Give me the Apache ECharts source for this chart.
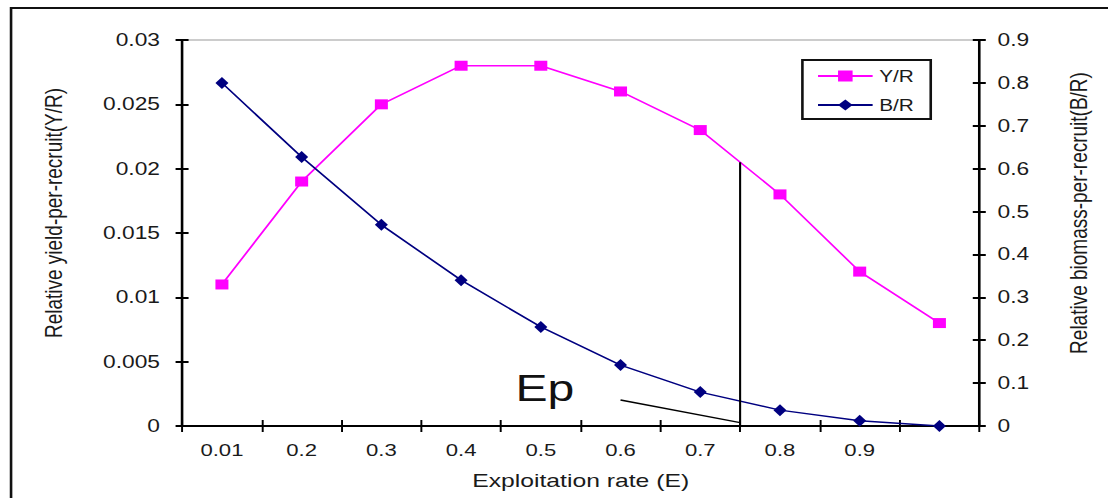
<!DOCTYPE html>
<html>
<head>
<meta charset="utf-8">
<script src="https://cdn.jsdelivr.net/npm/echarts@6/dist/echarts.min.js"></script>
<style>
html,body{margin:0;padding:0;overflow:hidden;background:#fff;width:1108px;height:498px;}
#main{width:852px;height:498px;transform:scaleX(1.3005);transform-origin:0 0;}
</style>
</head>
<body>
<div id="main"></div>
<script>
// ---- data ----
const categories = ['0.01', '0.2', '0.3', '0.4', '0.5', '0.6', '0.7', '0.8', '0.9', ''];
const yieldPerRecruit = [0.011, 0.019, 0.025, 0.028, 0.028, 0.026, 0.023, 0.018, 0.012, 0.008];
const biomassPerRecruit = [0.80, 0.627, 0.469, 0.34, 0.231, 0.142, 0.079, 0.037, 0.012, 0.0];
const leftScale = { min: 0, max: 0.03, interval: 0.005 };
const rightScale = { min: 0, max: 0.9, interval: 0.1 };
const seriesNames = ['Y/R', 'B/R'];
const xName = 'Exploitation rate (E)';
const leftName = 'Relative yield-per-recruit(Y/R)';
const rightName = 'Relative biomass-per-recruit(B/R)';
// Ep annotation anchors (category index, value)
const epLabelText = 'Ep';
const epIndex = 6.5;
const epLabelAt = [4.05, 0.089];          // right-axis value
const epPointerFrom = [5.0, 0.0606];      // right-axis value
const epPointerTo = [6.5, 0.008];         // right-axis value

const FONT = '"Liberation Sans", Arial, sans-serif';
const TXT = '#1a1a1a';

const chart = echarts.init(document.getElementById('main'), null, { renderer: 'svg' });

function yMain(scale, pos, name, gap, dp, margin) {
  return {
    type: 'value', position: pos, min: scale.min, max: scale.max, interval: scale.interval,
    name: name, nameLocation: 'middle', nameGap: gap, nameRotate: 90,
    nameTextStyle: { fontFamily: FONT, fontSize: 19, color: TXT, padding: [0, 0, 0, 40] },
    axisLine: { show: true, lineStyle: { color: '#000', width: 2 } },
    axisTick: { show: true, length: 5, lineStyle: { color: '#000', width: 2 } },
    axisLabel: { margin: margin, fontFamily: FONT, fontSize: 17.5, color: TXT,
      formatter: v => String(+v.toFixed(dp)) },
    splitLine: { show: false }
  };
}
function yInner(scale, pos) {
  return {
    type: 'value', position: pos, min: scale.min, max: scale.max, interval: scale.interval,
    axisLine: { show: false },
    axisTick: { show: true, inside: true, length: 5, lineStyle: { color: '#000', width: 2 } },
    axisLabel: { show: false }, splitLine: { show: false }
  };
}

chart.setOption({
  animation: false,
  backgroundColor: '#fff',
  grid: { left: 140, right: 99, top: 40, bottom: 72, show: true, borderColor: '#9a9a9a', borderWidth: 1,
          containLabel: false, outerBoundsMode: 'none' },
  legend: {
    orient: 'vertical', left: 617, top: 60,
    data: seriesNames,
    itemWidth: 42, itemHeight: 14, itemGap: 13, padding: [8, 13, 6, 11],
    borderColor: '#111', borderWidth: 2, backgroundColor: '#fff',
    textStyle: { fontFamily: FONT, fontSize: 16, color: TXT }
  },
  xAxis: [
    {
      type: 'category', data: categories, position: 'bottom', boundaryGap: true,
      name: xName, nameLocation: 'middle', nameGap: 45,
      nameTextStyle: { fontFamily: FONT, fontSize: 19, color: TXT },
      axisLine: { show: true, lineStyle: { color: '#000', width: 2 } },
      axisTick: { show: true, length: 6, lineStyle: { color: '#000', width: 1.5 } },
      axisLabel: { margin: 15, fontFamily: FONT, fontSize: 17, color: TXT, interval: 0 },
      splitLine: { show: false }
    },
    {
      type: 'category', data: categories, position: 'bottom', boundaryGap: true,
      axisLine: { show: false },
      axisTick: { show: true, inside: true, length: 6, lineStyle: { color: '#000', width: 1.5 } },
      axisLabel: { show: false }, splitLine: { show: false }
    }
  ],
  yAxis: [
    yMain(leftScale, 'left', leftName, 89, 3, 17),
    yMain(rightScale, 'right', rightName, 67, 1, 14),
    yInner(leftScale, 'left'),
    yInner(rightScale, 'right')
  ],
  series: [
    {
      name: seriesNames[0], type: 'line', xAxisIndex: 0, yAxisIndex: 0, data: yieldPerRecruit,
      symbol: 'rect', symbolSize: [10, 10], showAllSymbol: true,
      lineStyle: { color: '#ff00ff', width: 1.5 }, itemStyle: { color: '#ff00ff' }, z: 3
    },
    {
      name: seriesNames[1], type: 'line', xAxisIndex: 0, yAxisIndex: 1, data: biomassPerRecruit,
      symbol: 'diamond', symbolSize: [10, 12], showAllSymbol: true,
      lineStyle: { color: '#000080', width: 1.5 }, itemStyle: { color: '#000080' }, z: 3
    }
  ]
});

function toPx(seriesIndex, idx, val) {
  const i0 = Math.floor(idx), f = idx - i0;
  const p0 = chart.convertToPixel({ seriesIndex: seriesIndex }, [i0, val]);
  if (f === 0) return p0;
  const p1 = chart.convertToPixel({ seriesIndex: seriesIndex }, [i0 + 1, val]);
  return [p0[0] + (p1[0] - p0[0]) * f, p0[1]];
}

const lo = Math.floor(epIndex), hi = lo + 1;
const epTopVal = yieldPerRecruit[lo] + (yieldPerRecruit[hi] - yieldPerRecruit[lo]) * (epIndex - lo);
const vTop = toPx(0, epIndex, epTopVal);
const vBot = toPx(0, epIndex, 0);
const pA = toPx(1, epPointerFrom[0], epPointerFrom[1]);
const pB = toPx(1, epPointerTo[0], epPointerTo[1]);
const tP = toPx(1, epLabelAt[0], epLabelAt[1]);

chart.setOption({
  graphic: [
    { type: 'rect', silent: true, z: 0, shape: { x: 8.5, y: 8, width: 1000, height: 600 },
      style: { fill: null, stroke: '#111', lineWidth: 2 } },
    { type: 'line', silent: true, z: 100, shape: { x1: vTop[0], y1: vTop[1], x2: vBot[0], y2: vBot[1] },
      style: { stroke: '#000', lineWidth: 1.6 } },
    { type: 'line', silent: true, z: 100, shape: { x1: pA[0], y1: pA[1], x2: pB[0], y2: pB[1] },
      style: { stroke: '#000', lineWidth: 1.4 } },
    { type: 'text', silent: true, z: 100, x: tP[0], y: tP[1],
      style: { text: epLabelText, fontFamily: FONT, fontSize: 37, fill: '#111', align: 'center', verticalAlign: 'middle' } }
  ]
});
</script>
</body>
</html>
